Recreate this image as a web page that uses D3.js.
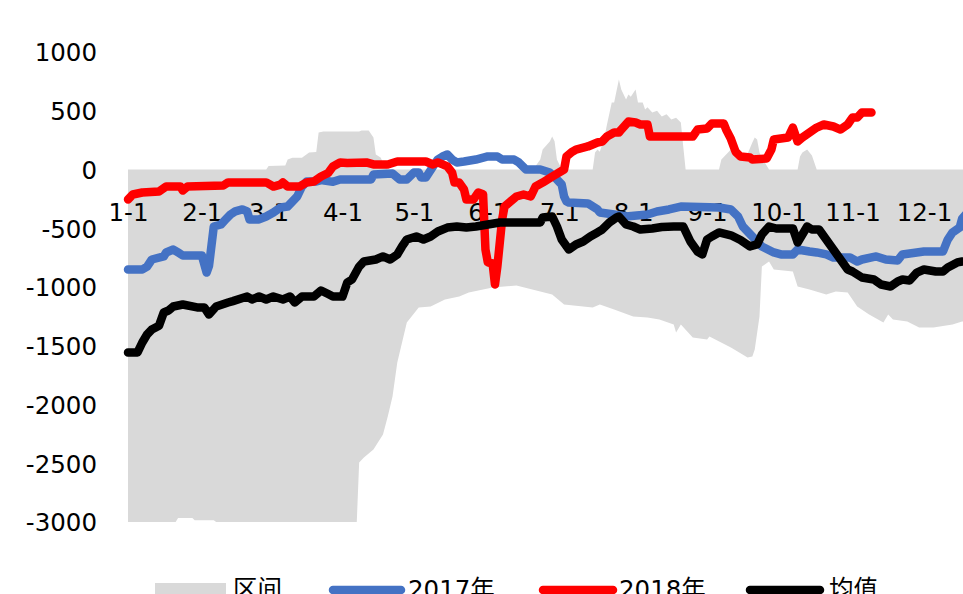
<!DOCTYPE html>
<html>
<head>
<meta charset="utf-8">
<script src="https://cdn.jsdelivr.net/npm/d3@7"></script>
<style>
  body { margin: 0; background: #fff; }
  svg text { font-family: "DejaVu Sans", sans-serif; fill: #000; }
  .legend text { font-family: "DejaVu Sans", "Noto Sans CJK SC", sans-serif; }
</style>
</head>
<body>
<svg width="963" height="594"></svg>
<script>
// x values are day of year (0 = 1-1)
let monthTicks = ["1-1","2-1","3-1","4-1","5-1","6-1","7-1","8-1","9-1","10-1","11-1","12-1"];
let yTicks = [1000, 500, 0, -500, -1000, -1500, -2000, -2500, -3000];

// band upper edge (max of past years)
let hiDays = [0,58,59,66,67,69,73,76,79,80,82,97,98,101,103,104,106,107,109,170,173,174,177,178,179,180,182,195,196,197,198,200,201,203,204,206,207,209,210,211,213,214,216,217,218,220,222,224,226,228,230,232,233,234,248,249,251,253,255,256,259,262,263,264,265,266,269,281,282,283,285,287,289,364];
let hiVals = [0,0,30,34,85,100,100,145,150,315,323,323,332,332,272,128,102,60,0,0,85,170,238,281,240,85,0,0,145,170,152,281,383,570,570,766,681,596,638,620,681,570,570,510,530,485,500,451,470,425,440,400,196,0,0,85,128,170,100,85,85,230,272,255,145,100,0,0,110,145,170,120,0,0];

// band lower edge (min of past years)
let loDays = [0,20,21,27,28,36,37,96,97,99,103,107,109,111,113,117,122,127,133,139,143,153,163,173,178,183,195,198,204,212,218,223,229,230,232,237,243,244,253,260,262,263,265,266,269,271,279,281,286,293,297,302,306,311,317,319,321,327,332,338,346,350,364];
let loVals = [-3000,-3000,-2965,-2965,-2985,-2985,-3000,-3000,-2494,-2450,-2383,-2255,-2102,-1932,-1643,-1302,-1174,-1166,-1106,-1081,-1047,-1004,-987,-1038,-1064,-1149,-1174,-1149,-1191,-1251,-1260,-1277,-1319,-1387,-1319,-1430,-1447,-1421,-1515,-1600,-1591,-1532,-1251,-826,-783,-851,-868,-996,-1021,-1064,-1038,-1047,-1166,-1234,-1302,-1234,-1277,-1294,-1345,-1345,-1319,-1294,-1280];

let days2017 = [0,6,8,10,15,16,19,21,23,31,33,34,36,39,41,43,45,48,50,51,55,58,61,64,67,69,71,73,75,79,81,86,89,102,103,111,114,117,120,122,123,125,128,130,132,134,136,138,141,146,151,155,157,162,164,167,173,177,180,182,183,184,185,193,197,198,204,209,218,222,227,232,248,253,256,258,262,266,271,274,279,281,286,289,293,296,303,306,308,314,318,323,325,331,334,342,344,346,349,350,353];
let vals2017 = [-851,-851,-826,-766,-740,-706,-681,-706,-732,-732,-877,-820,-485,-468,-425,-383,-357,-340,-357,-425,-425,-400,-366,-323,-315,-272,-230,-145,-102,-102,-90,-105,-85,-85,-43,-34,-85,-85,-26,-26,-68,-68,26,85,111,128,85,60,68,85,111,111,85,85,60,0,0,-26,-85,-128,-230,-272,-281,-289,-340,-366,-383,-400,-383,-357,-340,-315,-323,-340,-400,-485,-570,-655,-706,-723,-723,-681,-698,-706,-723,-749,-749,-783,-766,-740,-766,-774,-723,-706,-698,-698,-596,-536,-494,-420,-350];

let days2018 = [0,2,6,13,16,22,23,25,40,42,58,61,64,65,67,72,75,78,81,84,86,89,92,100,103,109,113,125,128,130,134,136,137,139,141,142,145,147,149,150,151,153,154,155,157,158,160,163,166,169,171,174,178,183,184,186,188,193,197,199,201,204,206,207,210,213,215,218,219,237,239,243,245,250,251,253,255,257,261,262,268,270,271,277,279,281,283,286,289,292,296,299,302,304,306,308,312];
let vals2018 = [-255,-213,-196,-187,-145,-145,-179,-145,-136,-110,-110,-145,-128,-110,-145,-145,-110,-102,-60,-30,26,60,55,60,43,43,68,68,43,60,26,-26,-111,-111,-170,-255,-255,-196,-210,-681,-791,-800,-979,-826,-425,-315,-281,-230,-213,-230,-145,-111,-60,0,111,145,170,196,230,238,281,315,315,340,408,400,383,383,281,281,340,349,391,391,340,260,150,111,102,85,94,170,255,272,357,238,272,315,357,383,366,340,383,442,442,485,485];

let daysMean = [0,4,6,8,10,13,15,17,19,23,29,32,34,37,42,44,50,52,55,58,61,65,68,70,73,78,81,84,86,90,92,94,97,99,104,107,110,113,115,117,121,124,127,130,134,138,142,146,151,156,173,174,178,180,182,185,188,191,194,197,199,202,205,206,209,212,215,220,224,229,233,236,239,241,243,245,248,253,257,261,264,266,269,272,279,281,283,285,287,290,293,296,299,302,304,308,313,316,320,323,325,328,331,334,339,342,344,348,350,355];
let valsMean = [-1557,-1557,-1472,-1404,-1362,-1330,-1217,-1200,-1166,-1149,-1174,-1174,-1234,-1166,-1132,-1120,-1081,-1106,-1081,-1106,-1081,-1106,-1081,-1132,-1081,-1081,-1030,-1060,-1081,-1081,-962,-936,-826,-783,-766,-740,-766,-723,-655,-596,-570,-596,-570,-528,-494,-485,-494,-485,-468,-451,-451,-408,-400,-485,-596,-681,-638,-613,-570,-536,-511,-451,-408,-400,-468,-485,-511,-502,-490,-485,-485,-613,-698,-723,-596,-570,-536,-560,-600,-655,-638,-553,-485,-502,-502,-621,-553,-485,-511,-511,-596,-681,-766,-851,-868,-919,-936,-979,-996,-953,-936,-945,-877,-851,-868,-868,-834,-791,-783,-783];

let legendNames = ["区间", "2017年", "2018年", "均值"];
let colors = {band: "#d9d9d9", y2017: "#4472c4", y2018: "#ff0000", mean: "#000000"};

let svg = d3.select("svg");
let jan1 = new Date(2018, 0, 1);
let toDate = d => d3.timeDay.offset(jan1, d);

let x = d3.scaleTime()
    .domain([jan1, new Date(2018, 11, 31)])
    .range([128, 128 + 364 * 2.383]);
let y = d3.scaleLinear()
    .domain([-3000, 1000])
    .range([522, 52]);

let zip = (ds, vs) => ds.map((d, i) => ({date: toDate(d), v: vs[i]}));

// grey band
let hi = zip(hiDays, hiVals);
let lo = zip(loDays, loVals);
let line = d3.line().x(d => x(d.date)).y(d => y(d.v));
svg.append("path")
    .attr("d", line(hi.concat(lo.slice().reverse())) + "Z")
    .attr("fill", colors.band);

// y axis
let yAxis = d3.axisLeft(y)
    .tickValues(yTicks)
    .tickFormat(d => String(d).replace("\u2212", "-"))
    .tickSize(0)
    .tickPadding(0);
let yg = svg.append("g")
    .attr("transform", "translate(97,0)")
    .call(yAxis);
yg.select(".domain").remove();
yg.selectAll("text")
    .style("font-size", "24.5px")
    .style("font-family", "DejaVu Sans")
    .attr("dy", "0.36em");

// x labels at month starts
let monthDates = monthTicks.map(s => {
    let p = s.split("-");
    return new Date(2018, +p[0] - 1, +p[1]);
});
let xAxis = d3.axisBottom(x)
    .tickValues(monthDates)
    .tickFormat((d, i) => monthTicks[i])
    .tickSize(0)
    .tickPadding(0);
let xg = svg.append("g")
    .attr("transform", "translate(0,203)")
    .call(xAxis);
xg.select(".domain").remove();
xg.selectAll("text")
    .style("font-size", "24.5px")
    .style("font-family", "DejaVu Sans")
    .attr("dy", "0.72em");

// series
let series = [
    {data: zip(days2017, vals2017), color: colors.y2017},
    {data: zip(days2018, vals2018), color: colors.y2018},
    {data: zip(daysMean, valsMean), color: colors.mean}
];
series.forEach(s => {
    svg.append("path")
        .datum(s.data)
        .attr("d", line)
        .attr("fill", "none")
        .attr("stroke", s.color)
        .attr("stroke-width", 8.5)
        .attr("stroke-linejoin", "round")
        .attr("stroke-linecap", "round");
});

// legend (cut off at the bottom like the original)
let lg = svg.append("g").attr("class", "legend");
let legendItems = [
    {type: "rect", x0: 155, x1: 226, tx: 233, color: colors.band},
    {type: "line", x0: 333, x1: 401, tx: 408, color: colors.y2017},
    {type: "line", x0: 543, x1: 613, tx: 619, color: colors.y2018},
    {type: "line", x0: 750, x1: 820, tx: 829, color: colors.mean}
];
legendItems.forEach((it, i) => {
    if (it.type === "rect") {
        lg.append("rect")
            .attr("x", it.x0).attr("y", 583)
            .attr("width", it.x1 - it.x0).attr("height", 20)
            .attr("fill", it.color);
    } else {
        lg.append("line")
            .attr("x1", it.x0).attr("x2", it.x1)
            .attr("y1", 590).attr("y2", 590)
            .attr("stroke", it.color)
            .attr("stroke-width", 8.5)
            .attr("stroke-linecap", "round");
    }
    lg.append("text")
        .attr("x", it.tx).attr("y", 598)
        .style("font-size", "24.5px")
        .text(legendNames[i]);
});
</script>
</body>
</html>
